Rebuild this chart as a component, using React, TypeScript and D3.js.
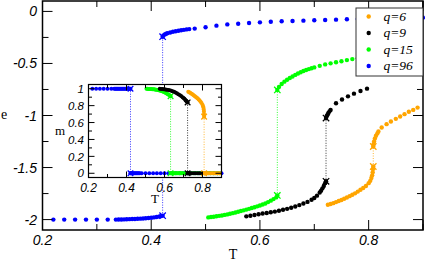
import React, { useRef, useEffect } from "react";
import * as d3 from "d3";

// legend order
const qLabels = ["q=6", "q=9", "q=15", "q=96"];
const qColors = ["#ffa500", "#000000", "#00ff00", "#0000ff"];

// q=96 : ordered branch (T, e, m) and disordered branch (T, e), m = 0 there
const q96LowT = [0.22, 0.24, 0.26, 0.28, 0.3, 0.32, 0.335, 0.34, 0.345, 0.35, 0.355, 0.36, 0.365, 0.37, 0.375, 0.38, 0.385, 0.39, 0.395, 0.4, 0.405, 0.41, 0.415, 0.418, 0.421];
const q96LowE = [-2.0, -2.0, -2.0, -2.0, -2.0, -2.0, -2.0, -1.999, -1.999, -1.998, -1.997, -1.996, -1.995, -1.994, -1.992, -1.991, -1.989, -1.987, -1.985, -1.982, -1.979, -1.975, -1.97, -1.967, -1.962];
const q96LowM = [1, 1, 1, 1, 1, 1, 1, 1, 1, 1, 1, 1, 1, 1, 1, 1, 1, 1, 1, 1, 1, 1, 1, 1, 1];
const q96HighT = [0.421, 0.4225, 0.425, 0.4275, 0.43, 0.435, 0.44, 0.445, 0.45, 0.455, 0.46, 0.465, 0.47, 0.48, 0.5, 0.52, 0.54, 0.56, 0.58, 0.6, 0.62, 0.64, 0.66, 0.68, 0.7, 0.72, 0.74, 0.76, 0.78, 0.8, 0.82, 0.84, 0.86, 0.88, 0.9];
const q96HighE = [-0.243, -0.232, -0.221, -0.214, -0.209, -0.202, -0.196, -0.191, -0.186, -0.181, -0.177, -0.173, -0.17, -0.165, -0.152, -0.137, -0.125, -0.118, -0.111, -0.105, -0.099, -0.095, -0.092, -0.089, -0.085, -0.082, -0.079, -0.076, -0.073, -0.071, -0.068, -0.066, -0.064, -0.062, -0.06];

// q=15
const q15LowT = [0.505, 0.51, 0.515, 0.52, 0.525, 0.53, 0.535, 0.54, 0.545, 0.55, 0.555, 0.56, 0.565, 0.57, 0.575, 0.58, 0.585, 0.59, 0.595, 0.6, 0.605, 0.61, 0.615, 0.62, 0.625, 0.63, 0.632];
const q15LowE = [-1.979, -1.975, -1.972, -1.968, -1.964, -1.96, -1.955, -1.95, -1.944, -1.938, -1.932, -1.925, -1.918, -1.911, -1.904, -1.897, -1.889, -1.881, -1.873, -1.865, -1.855, -1.845, -1.832, -1.818, -1.803, -1.787, -1.768];
const q15LowM = [0.999, 0.999, 0.998, 0.998, 0.997, 0.996, 0.995, 0.994, 0.993, 0.991, 0.989, 0.987, 0.985, 0.982, 0.979, 0.976, 0.972, 0.968, 0.963, 0.958, 0.952, 0.946, 0.939, 0.931, 0.925, 0.918, 0.912];
const q15HighT = [0.632, 0.635, 0.64, 0.645, 0.65, 0.655, 0.66, 0.665, 0.67, 0.675, 0.68, 0.685, 0.69, 0.695, 0.7, 0.71, 0.72, 0.73, 0.74, 0.75, 0.76, 0.77, 0.78, 0.79, 0.8, 0.81, 0.82, 0.83, 0.84, 0.85, 0.86, 0.87, 0.88, 0.89];
const q15HighE = [-0.754, -0.725, -0.697, -0.675, -0.656, -0.64, -0.625, -0.61, -0.597, -0.584, -0.572, -0.563, -0.554, -0.546, -0.538, -0.523, -0.509, -0.499, -0.489, -0.479, -0.468, -0.458, -0.449, -0.441, -0.433, -0.426, -0.419, -0.412, -0.406, -0.4, -0.394, -0.389, -0.384, -0.379];

// q=9
const q9LowT = [0.575, 0.5825, 0.59, 0.5975, 0.605, 0.6125, 0.62, 0.6275, 0.635, 0.6425, 0.65, 0.6575, 0.665, 0.6725, 0.68, 0.6875, 0.695, 0.7, 0.705, 0.71, 0.7125, 0.715, 0.7175, 0.72, 0.7216];
const q9LowE = [-1.969, -1.963, -1.956, -1.949, -1.942, -1.936, -1.93, -1.923, -1.915, -1.906, -1.897, -1.886, -1.874, -1.861, -1.846, -1.83, -1.81, -1.792, -1.77, -1.74, -1.722, -1.7, -1.678, -1.65, -1.632];
const q9LowM = [0.999, 0.998, 0.996, 0.994, 0.992, 0.989, 0.985, 0.981, 0.976, 0.97, 0.963, 0.955, 0.946, 0.936, 0.925, 0.913, 0.9, 0.89, 0.88, 0.868, 0.862, 0.856, 0.85, 0.843, 0.838];
const q9HighT = [0.7216, 0.723, 0.7245, 0.726, 0.728, 0.73, 0.74, 0.751, 0.762, 0.773, 0.785, 0.797];
const q9HighE = [-1.025, -1.005, -0.99, -0.975, -0.96, -0.946, -0.882, -0.846, -0.816, -0.79, -0.765, -0.742];

// q=6
const q6LowT = [0.725, 0.73, 0.735, 0.74, 0.745, 0.75, 0.755, 0.76, 0.765, 0.77, 0.775, 0.78, 0.785, 0.79, 0.795, 0.8, 0.803, 0.805, 0.8065, 0.8075, 0.808, 0.8085];
const q6LowE = [-1.857, -1.85, -1.842, -1.832, -1.822, -1.812, -1.8, -1.788, -1.775, -1.762, -1.748, -1.731, -1.714, -1.697, -1.677, -1.65, -1.628, -1.6, -1.575, -1.545, -1.515, -1.49];
const q6LowM = [0.965, 0.958, 0.951, 0.944, 0.937, 0.929, 0.921, 0.912, 0.903, 0.893, 0.883, 0.872, 0.86, 0.846, 0.83, 0.81, 0.793, 0.775, 0.755, 0.73, 0.7, 0.67];
const q6HighT = [0.8085, 0.809, 0.81, 0.8115, 0.8135, 0.816, 0.818, 0.824, 0.833, 0.841, 0.85, 0.858, 0.866, 0.874, 0.882, 0.89];
const q6HighE = [-1.298, -1.275, -1.25, -1.22, -1.195, -1.172, -1.154, -1.116, -1.083, -1.058, -1.032, -1.01, -0.987, -0.964, -0.946, -0.924];

const mDisordered = 0;

// ticks
const tTicks = [0.2, 0.4, 0.6, 0.8];
const tTickLabels = ["0.2", "0.4", "0.6", "0.8"];
const tMinor = [0.3, 0.5, 0.7];
const eTicks = [-2, -1.5, -1, -0.5, 0];
const eTickLabels = ["-2", "-1.5", "-1", "-0.5", "0"];
const eMinor = [-1.75, -1.25, -0.75, -0.25];
const mTicks = [0, 0.2, 0.4, 0.6, 0.8, 1];
const mTickLabels = ["0", "0.2", "0.4", "0.6", "0.8", "1"];
const mMinor = [0.1, 0.3, 0.5, 0.7, 0.9];

const SANS = "'Liberation Sans', Arial, sans-serif";
const SERIF = "'Liberation Serif', 'Times New Roman', serif";

const App = () => {
  const chartRef = useRef<SVGSVGElement>(null);

  useEffect(() => {
    const svg = d3.select(chartRef.current);
    svg.selectAll("*").remove();

    const pairs = (t: number[], v: number[]) => t.map((d, i) => [d, v[i]]);
    // drawn back to front, q=96 first
    const series = [
      { color: qColors[3], low: pairs(q96LowT, q96LowE), high: pairs(q96HighT, q96HighE), mLow: pairs(q96LowT, q96LowM), mHigh: q96HighT.map((t) => [t, mDisordered]) },
      { color: qColors[2], low: pairs(q15LowT, q15LowE), high: pairs(q15HighT, q15HighE), mLow: pairs(q15LowT, q15LowM), mHigh: q15HighT.map((t) => [t, mDisordered]) },
      { color: qColors[1], low: pairs(q9LowT, q9LowE), high: pairs(q9HighT, q9HighE), mLow: pairs(q9LowT, q9LowM), mHigh: q9HighT.map((t) => [t, mDisordered]) },
      { color: qColors[0], low: pairs(q6LowT, q6LowE), high: pairs(q6HighT, q6HighE), mLow: pairs(q6LowT, q6LowM), mHigh: q6HighT.map((t) => [t, mDisordered]) },
    ];

    const dots = (g, sx, sy, pts, color, r) => {
      g.append("g")
        .selectAll("circle")
        .data(pts)
        .enter()
        .append("circle")
        .attr("cx", (d) => sx(d[0]))
        .attr("cy", (d) => sy(d[1]))
        .attr("r", r)
        .attr("fill", color);
    };
    const cross = (g, px, py, color, s) => {
      g.append("path")
        .attr("d", `M${px - s},${py - s}L${px + s},${py + s}M${px - s},${py + s}L${px + s},${py - s}`)
        .attr("stroke", color)
        .attr("stroke-width", 1.3)
        .attr("fill", "none");
    };
    const dotted = (g, px, y1, y2, color) => {
      g.append("line")
        .attr("x1", px)
        .attr("x2", px)
        .attr("y1", y1)
        .attr("y2", y2)
        .attr("stroke", color)
        .attr("stroke-width", 0.8)
        .attr("stroke-dasharray", "1,1.5");
    };

    // frame with inward ticks on all four sides
    const frame = (g, sx, sy, xMaj, xMin, yMaj, yMin, big, small, sw) => {
      const [x0, x1] = sx.range();
      const [y0, y1] = sy.range();
      const tick = (xa, ya, xb, yb) =>
        g.append("line").attr("x1", xa).attr("y1", ya).attr("x2", xb).attr("y2", yb).attr("stroke", "#000").attr("stroke-width", 1);
      xMaj.forEach((t) => { tick(sx(t), y0, sx(t), y0 - big); tick(sx(t), y1, sx(t), y1 + big); });
      xMin.forEach((t) => { tick(sx(t), y0, sx(t), y0 - small); tick(sx(t), y1, sx(t), y1 + small); });
      yMaj.forEach((v) => { tick(x0, sy(v), x0 + big, sy(v)); tick(x1, sy(v), x1 - big, sy(v)); });
      yMin.forEach((v) => { tick(x0, sy(v), x0 + small, sy(v)); tick(x1, sy(v), x1 - small, sy(v)); });
      g.append("rect")
        .attr("x", x0).attr("y", y1)
        .attr("width", x1 - x0).attr("height", y0 - y1)
        .attr("fill", "none").attr("stroke", "#000").attr("stroke-width", sw);
    };

    // ---- main plot: e vs T
    const x = d3.scaleLinear().domain([0.2, 0.9]).range([42.5, 423]);
    const y = d3.scaleLinear().domain([-2.1, 0.1]).range([230, 1]);
    const main = svg.append("g");

    series.forEach((s) => {
      const a = s.low[s.low.length - 1];
      const b = s.high[0];
      dotted(main, x(a[0]), y(a[1]), y(b[1]), s.color);
      dots(main, x, y, s.low, s.color, 2.2);
      dots(main, x, y, s.high, s.color, 2.2);
      cross(main, x(a[0]), y(a[1]), s.color, 3.2);
      cross(main, x(b[0]), y(b[1]), s.color, 3.2);
    });

    frame(main, x, y, [0.2, ...tTicks, 0.9], [...tMinor, 0.9], eTicks, eMinor, 10, 6, 1.5);

    main.append("g")
      .selectAll("text")
      .data(tTicks)
      .enter()
      .append("text")
      .attr("x", (d) => x(d))
      .attr("y", 245)
      .attr("text-anchor", "middle")
      .style("font-family", SANS)
      .style("font-style", "italic")
      .style("font-size", "14px")
      .text((d, i) => tTickLabels[i]);
    main.append("g")
      .selectAll("text")
      .data(eTicks)
      .enter()
      .append("text")
      .attr("x", 37)
      .attr("y", (d) => y(d))
      .attr("dy", "0.36em")
      .attr("text-anchor", "end")
      .style("font-family", SANS)
      .style("font-style", "italic")
      .style("font-size", "14px")
      .text((d, i) => eTickLabels[i]);
    main.append("text")
      .attr("x", 233)
      .attr("y", 259)
      .attr("text-anchor", "middle")
      .style("font-family", SERIF)
      .style("font-size", "14px")
      .text("T");
    main.append("text")
      .attr("x", 4)
      .attr("y", 119)
      .attr("text-anchor", "middle")
      .style("font-family", SERIF)
      .style("font-size", "14px")
      .text("e");

    // ---- inset: m vs T
    const xi = d3.scaleLinear().domain([0.2, 0.9]).range([88.5, 221.5]);
    const yi = d3.scaleLinear().domain([-0.05, 1.05]).range([177.5, 84.5]);
    const inset = svg.append("g");
    inset.append("rect")
      .attr("x", 88.5).attr("y", 84.5)
      .attr("width", 133).attr("height", 93)
      .attr("fill", "#fff");

    series.forEach((s) => {
      const a = s.mLow[s.mLow.length - 1];
      const b = s.mHigh[0];
      dotted(inset, xi(a[0]), yi(a[1]), yi(b[1]), s.color);
      dots(inset, xi, yi, s.mLow, s.color, 2);
      dots(inset, xi, yi, s.mHigh, s.color, 2);
      cross(inset, xi(a[0]), yi(a[1]), s.color, 2.8);
      cross(inset, xi(b[0]), yi(b[1]), s.color, 2.8);
    });

    frame(inset, xi, yi, tTicks, [...tMinor, 0.9], mTicks, mMinor, 6, 3.5, 1.2);

    inset.append("g")
      .selectAll("text")
      .data(tTicks)
      .enter()
      .append("text")
      .attr("x", (d) => xi(d))
      .attr("y", 191.5)
      .attr("text-anchor", "middle")
      .style("font-family", SANS)
      .style("font-style", "italic")
      .style("font-size", "12px")
      .text((d, i) => tTickLabels[i]);
    inset.append("g")
      .selectAll("text")
      .data(mTicks)
      .enter()
      .append("text")
      .attr("x", 84)
      .attr("y", (d) => yi(d))
      .attr("dy", "0.36em")
      .attr("text-anchor", "end")
      .style("font-family", SANS)
      .style("font-style", "italic")
      .style("font-size", "11.5px")
      .text((d, i) => mTickLabels[i]);
    inset.append("text")
      .attr("x", 155)
      .attr("y", 203)
      .attr("text-anchor", "middle")
      .style("font-family", SERIF)
      .style("font-size", "13px")
      .text("T");
    inset.append("text")
      .attr("x", 60)
      .attr("y", 135)
      .attr("text-anchor", "middle")
      .style("font-family", SERIF)
      .style("font-size", "13px")
      .text("m");

    // ---- legend
    const legend = svg.append("g");
    legend.append("rect")
      .attr("x", 356).attr("y", 8)
      .attr("width", 67).attr("height", 68)
      .attr("fill", "#fff")
      .attr("stroke", "#333")
      .attr("stroke-width", 1);
    qLabels.forEach((label, i) => {
      const ly = 16.5 + i * 16.5;
      legend.append("circle").attr("cx", 368.7).attr("cy", ly).attr("r", 2.2).attr("fill", qColors[i]);
      legend.append("text")
        .attr("x", 383.5)
        .attr("y", ly)
        .attr("dy", "0.33em")
        .style("font-family", SERIF)
        .style("font-style", "italic")
        .style("font-size", "13.5px")
        .text(label);
    });
  }, []);

  return (
    <div style={{ position: "absolute", left: 0, top: 0 }}>
      <svg ref={chartRef} width={425} height={261} style={{ display: "block", background: "#fff" }} />
    </div>
  );
};

export default App;
